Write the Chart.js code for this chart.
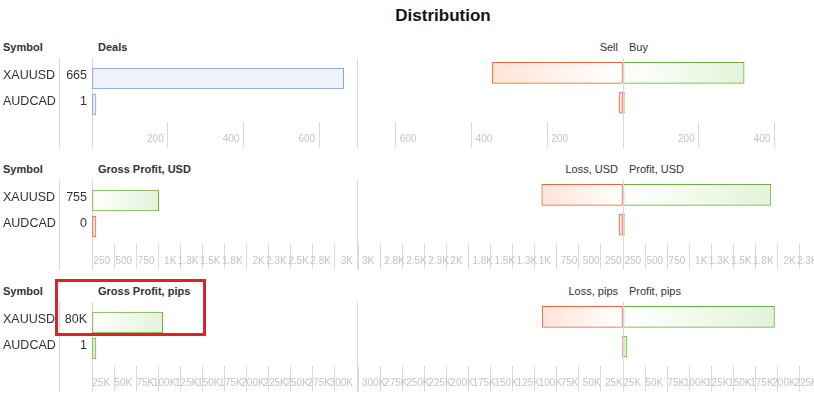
<!DOCTYPE html>
<html>
<head>
<meta charset="utf-8">
<title>Distribution</title>
<script src="https://cdn.jsdelivr.net/npm/chart.js@4.4.1/dist/chart.umd.min.js"></script>
<style>
  body { margin: 0; width: 814px; height: 395px; overflow: hidden; position: relative; background: #fff; font-family: "Liberation Sans", Arial, sans-serif; color: #333; }
  #root div, #root canvas { position: absolute; }
  .txt { font-size: 11px; line-height: 14px; white-space: nowrap; }
  .neg { text-align: right; }
  .bold { font-weight: bold; }
  .linea { width: 1px; background: #dadada; }
  #titulo { left: 343px; top: 6px; width: 200px; text-align: center; font-size: 17px; line-height: 20px; font-weight: bold; color: #151515; }
  #marca { left: 55px; top: 279px; width: 151px; height: 57px; box-sizing: border-box; border: 3px solid #e3202a; }
</style>
</head>
<body>
<div id="root">
  <div id="titulo">Distribution</div>
</div>
<script>
const symbols = ['XAUUSD', 'AUDCAD']

const deals = [665, 1]
const sells = [345, 1]
const buys = [320, 0]

const grossUsd = [755, -0.4]
const lossUsd = [920, 0.4]
const profitUsd = [1675, 0]

const grossPips = [80000, 1]
const lossPips = [91500, 0]
const profitPips = [171500, 1]

// value at the right end of each left panel, and tick step
const axisMax = [700, 3000, 300000]
const axisStep = [200, 250, 25000]

const RED = '#e8673f', RED_FILL = '#fde4d7'
const GREEN = '#6cb33e', GREEN_FILL = '#e3f3da'
const BLUE = '#7d9dd5', BLUE_FILL = '#edf2fb'

Chart.defaults.font.family = '"Liberation Sans", Arial, sans-serif'

const root = document.getElementById('root')

const fmt = (v) => {
    if (Math.abs(v) >= 1000) return String(+(v / 1000).toFixed(1)) + 'K'
    return String(Math.round(v))
}

// very small values still get a visible bar, zero gets just a line
const minLen = (arr) => arr.includes(0) ? 1.5 : 4

const addDiv = (cls, css, text) => {
    const d = document.createElement('div')
    d.className = cls
    Object.assign(d.style, css)
    if (text) d.textContent = text
    root.appendChild(d)
    return d
}

const addCanvas = (left, top, w, h) => {
    const c = document.createElement('canvas')
    c.width = w
    c.height = h
    Object.assign(c.style, { left: left + 'px', top: top + 'px', width: w + 'px', height: h + 'px' })
    root.appendChild(c)
    return c
}

// gradient from white at zero to the colour at the end of the bar
const fade = (color) => (c) => {
    const chart = c.chart
    if (!chart.chartArea) return color
    const x = chart.scales.x
    const p0 = x.getPixelForValue(0)
    const p1 = x.getPixelForValue(Math.abs(c.raw))
    if (Math.abs(p1 - p0) < 1) return color
    const g = chart.ctx.createLinearGradient(p0, 0, p1, 0)
    g.addColorStop(0, '#ffffff')
    g.addColorStop(1, color)
    return g
}

const xScale = (max, step, align, reverse) => ({
    min: 0,
    max: max,
    reverse: reverse,
    grid: { drawOnChartArea: false, drawTicks: true, tickLength: 30, color: '#dadada' },
    // transparent thick border only pushes the tick lines down a bit
    border: { display: true, width: 9, color: 'rgba(0,0,0,0)' },
    ticks: {
        stepSize: step,
        includeBounds: false,
        autoSkip: false,
        maxRotation: 0,
        minRotation: 0,
        align: align,
        labelOffset: align === 'end' ? -4 : 4,
        padding: -14.5,
        color: '#c4c4c4',
        font: { size: 10 },
        callback: (v) => v === 0 ? '' : fmt(v)
    },
    afterFit: (s) => { s.height = 30.5 }
})

const valueLabels = {
    id: 'valueLabels',
    afterDraw(chart, args, opts) {
        const { ctx, chartArea } = chart
        const y = chart.scales.y
        ctx.save()
        ctx.font = '12.5px "Liberation Sans", Arial, sans-serif'
        ctx.fillStyle = '#333'
        ctx.textAlign = 'right'
        ctx.textBaseline = 'middle'
        opts.values.forEach((v, i) => {
            ctx.fillText(fmt(v), chartArea.left - 5, y.getPixelForValue(i) - 2.5)
        })
        ctx.restore()
    }
}

const baseOptions = () => ({
    indexAxis: 'y',
    responsive: false,
    animation: false,
    events: [],
    layout: { padding: 0 },
    plugins: { legend: { display: false }, tooltip: { enabled: false } }
})

const sections = [
    { title: 'Deals', negTitle: 'Sell', posTitle: 'Buy', main: deals, neg: sells, pos: buys, plain: true },
    { title: 'Gross Profit, USD', negTitle: 'Loss, USD', posTitle: 'Profit, USD', main: grossUsd, neg: lossUsd, pos: profitUsd },
    { title: 'Gross Profit, pips', negTitle: 'Loss, pips', posTitle: 'Profit, pips', main: grossPips, neg: lossPips, pos: profitPips }
]

sections.forEach((s, i) => {
    const T = i * 122
    const max = axisMax[i]
    const step = axisStep[i]

    addDiv('txt bold', { left: '3px', top: (40 + T) + 'px' }, 'Symbol')
    addDiv('txt bold', { left: '98px', top: (40 + T) + 'px' }, s.title)
    addDiv('txt neg', { right: '196px', top: (40 + T) + 'px' }, s.negTitle)
    addDiv('txt', { left: '629px', top: (40 + T) + 'px' }, s.posTitle)

    ;[59, 92, 357].forEach(x => addDiv('linea', { left: x + 'px', top: (58 + T) + 'px', height: '90px' }))

    // left panel: symbol, value and bar
    const mainColor = (idx) => s.plain ? BLUE : (s.main[idx] < 0 ? RED : GREEN)
    const left = baseOptions()
    left.layout = { padding: { left: 3, right: 0, top: 0, bottom: 0 } }
    left.plugins.valueLabels = { values: s.main }
    left.scales = {
        x: xScale(max, step, 'end', false),
        y: {
            grid: { display: false },
            border: { display: false },
            ticks: { crossAlign: 'far', color: '#333', font: { size: 12.5 }, padding: 0, labelOffset: -2.5 },
            afterFit: (sc) => { sc.width = 89 }
        }
    }
    new Chart(addCanvas(0, 58 + T, 357, 90), {
        type: 'bar',
        data: {
            labels: symbols,
            datasets: [{
                data: s.main.map(Math.abs),
                backgroundColor: (c) => s.plain ? BLUE_FILL : fade(s.main[c.dataIndex] < 0 ? RED_FILL : GREEN_FILL)(c),
                borderColor: (c) => mainColor(c.dataIndex),
                borderWidth: 1,
                borderSkipped: false,
                barThickness: 21,
                minBarLength: minLen(s.main)
            }]
        },
        options: left,
        plugins: [valueLabels]
    })

    // sell / loss side, growing to the left
    const neg = baseOptions()
    neg.scales = { x: xScale(max, step, 'start', true), y: { display: false } }
    new Chart(addCanvas(358, 58 + T, 265, 90), {
        type: 'bar',
        data: {
            labels: symbols,
            datasets: [{
                data: s.neg,
                backgroundColor: fade(RED_FILL),
                borderColor: RED,
                borderWidth: 1,
                borderSkipped: false,
                barThickness: 21,
                minBarLength: minLen(s.neg)
            }]
        },
        options: neg
    })

    // buy / profit side
    const pos = baseOptions()
    pos.scales = { x: xScale(max, step, 'end', false), y: { display: false } }
    new Chart(addCanvas(623, 58 + T, 265, 90), {
        type: 'bar',
        data: {
            labels: symbols,
            datasets: [{
                data: s.pos,
                backgroundColor: fade(GREEN_FILL),
                borderColor: GREEN,
                borderWidth: 1,
                borderSkipped: false,
                barThickness: 21,
                minBarLength: minLen(s.pos)
            }]
        },
        options: pos
    })

    addDiv('linea', { left: '623px', top: (58 + T) + 'px', height: '90px' })
})

addDiv('', {}, '').id = 'marca'
</script>
</body>
</html>
